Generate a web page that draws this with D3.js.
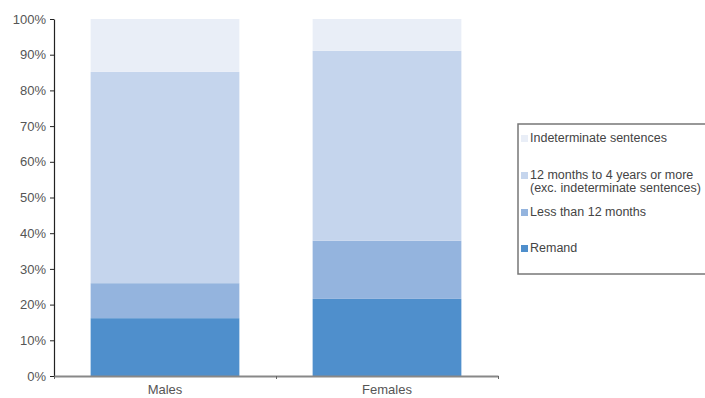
<!DOCTYPE html>
<html><head><meta charset="utf-8">
<script src="https://cdn.jsdelivr.net/npm/d3@7"></script>
<style>html,body{margin:0;padding:0;background:#fff;}svg{display:block;font-family:"Liberation Sans",Arial,sans-serif;}</style>
</head><body>
<svg id="c" width="705" height="398"></svg>
<script>
const categories = ["Males", "Females"];
const seriesNames = ["Remand", "Less than 12 months", "12 months to 4 years or more (exc. indeterminate sentences)", "Indeterminate sentences"];
const remand = [16.2, 21.6];
const lessThan12 = [9.8, 16.3];
const twelveTo4 = [59.2, 53.2];
const indeterminate = [14.8, 8.9];
const seriesColors = ["#4f8fcc", "#94b4de", "#c5d5ed", "#e9eef7"];
const yTicks = [0,10,20,30,40,50,60,70,80,90,100];

(function(){
const series = [remand, lessThan12, twelveTo4, indeterminate];
const rows = categories.map((c,i)=>{const r={cat:c}; seriesNames.forEach((s,j)=>r[s]=series[j][i]); return r;});
const stacked = d3.stack().keys(seriesNames)(rows);

const svg = d3.select("#c");
const mLeft=54, mRight=498, mTop=19, mBottom=376;
const x = d3.scaleBand().domain(categories).range([mLeft,mRight]).paddingInner(0.33).paddingOuter(0.165);
const y = d3.scaleLinear().domain([0,100]).range([mBottom,mTop]);

svg.append("g").selectAll("g").data(stacked).join("g")
  .attr("fill",(d,i)=>seriesColors[i])
  .selectAll("rect").data(d=>d).join("rect")
  .attr("x",d=>x(d.data.cat)).attr("width",x.bandwidth())
  .attr("y",d=>y(d[1])).attr("height",d=>y(d[0])-y(d[1]));

// y axis
const ya = svg.append("g").attr("transform",`translate(${mLeft},0)`)
  .call(d3.axisLeft(y).tickValues(yTicks).tickFormat(d=>d+"%").tickSize(4).tickSizeOuter(0));
ya.select(".domain").attr("stroke","#222").attr("stroke-width",1.2);
ya.selectAll(".tick line").attr("stroke","#222");
ya.selectAll("text").attr("font-size",13).attr("fill","#555").attr("x",-8);

// x axis
const xb = d3.scaleLinear().domain([0,2]).range([mLeft,mRight]);
const xa = svg.append("g").attr("transform",`translate(0,${mBottom})`)
  .call(d3.axisBottom(xb).tickValues([0,1,2]).tickFormat("").tickSize(3).tickSizeOuter(0));
xa.select(".domain").attr("stroke","#888").attr("stroke-width",2);
xa.selectAll(".tick line").attr("stroke","#666");
svg.append("g").selectAll("text").data(categories).join("text")
  .attr("x",d=>x(d)+x.bandwidth()/2).attr("y",mBottom+18)
  .attr("text-anchor","middle").attr("font-size",13).attr("fill","#555").text(d=>d);

// legend
svg.append("rect").attr("x",518).attr("y",124).attr("width",200).attr("height",150)
  .attr("fill","none").attr("stroke","#777").attr("stroke-width",1.5);
const legendItems = [
  {i:3, lines:["Indeterminate sentences"], y:138},
  {i:2, lines:["12 months to 4 years or more","(exc. indeterminate sentences)"], y:175},
  {i:1, lines:["Less than 12 months"], y:212},
  {i:0, lines:["Remand"], y:248}
];
const lg = svg.append("g").selectAll("g").data(legendItems).join("g");
lg.append("rect").attr("x",521).attr("y",d=>d.y-3).attr("width",7).attr("height",7).attr("fill",d=>seriesColors[d.i]);
lg.append("text").attr("font-size",12.5).attr("fill","#444")
  .selectAll("tspan").data(d=>d.lines.map((l,k)=>({l,k,y:d.y}))).join("tspan")
  .attr("x",530).attr("y",t=>t.y+4+t.k*13).text(t=>t.l);
})();
</script>
</body></html>
